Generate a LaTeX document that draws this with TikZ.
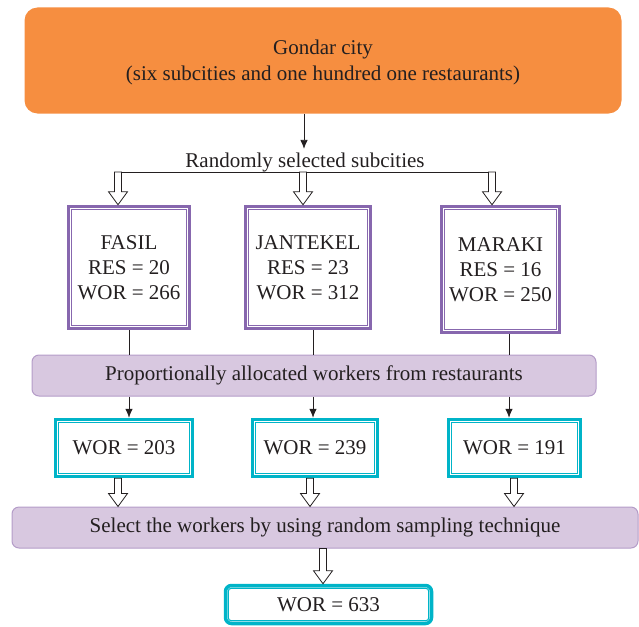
\documentclass[tikz,border=0pt]{standalone}
\usepackage{fontspec}
\setmainfont{Liberation Serif}
\usetikzlibrary{calc,arrows.meta}
\definecolor{orangeC}{HTML}{F68E40}
\definecolor{purpC}{HTML}{8767AE}
\definecolor{bandC}{HTML}{D8C8E0}
\definecolor{bandD}{HTML}{B49CC8}
\definecolor{cyanC}{HTML}{00B4C8}
\definecolor{txtC}{HTML}{231F20}
\newcommand\hollowarrow[2]{%
  \draw[harr] let \p1=(#1), \p2=(#2) in
    (\x1-3.5pt,\y1) -- (\x1-3.5pt,\y2+13pt) -- (\x1-9.5pt,\y2+13pt) -- (\x2,\y2)
    -- (\x1+9.5pt,\y2+13pt) -- (\x1+3.5pt,\y2+13pt) -- (\x1+3.5pt,\y1) -- cycle;}
\newcommand\innerframe[2]{%
  \draw[#2, line width=1.1pt] ($(#1.north west)+(4.5pt,-4.5pt)$) rectangle ($(#1.south east)+(-4.5pt,4.5pt)$);}
\begin{document}
\begin{tikzpicture}[x=1pt,y=-1pt,
  every node/.style={text=txtC, font=\fontsize{21}{25}\selectfont},
  topbox/.style={fill=orangeC, rounded corners=13pt, minimum width=597pt, minimum height=106pt, align=center, inner sep=0pt},
  subbox/.style={draw=purpC, line width=3.5pt, fill=white, align=center, inner sep=0pt},
  band/.style={draw=bandD, fill=bandC, line width=1pt, rounded corners=7pt, inner sep=0pt},
  worbox/.style={draw=cyanC, line width=3.5pt, fill=white, inner sep=0pt},
  conn/.style={draw=txtC, line width=0.8pt},
  arr/.style={conn, -{Latex[length=9pt,width=7.5pt]}},
  harr/.style={draw=txtC, line width=0.8pt, fill=white}
]
\useasboundingbox (0,0) rectangle (639,626);
\node[topbox] (city) at (323,60.5) {};
\node (citytxt) at (323,62.5) [align=center] {Gondar city\\[1pt](six subcities and one hundred one restaurants)};
\node (rand) at (305,162) {Randomly selected subcities};
\node[subbox, minimum width=121pt, minimum height=122pt] (fasil) at (129,267.5) {FASIL\\RES = 20\\WOR = 266};
\node[subbox, minimum width=125pt, minimum height=122pt] (jan) at (308,267.5) {JANTEKEL\\RES = 23\\WOR = 312};
\node[subbox, minimum width=118pt, minimum height=126pt] (mar) at (500.5,269.5) {MARAKI\\RES = 16\\WOR = 250};
\innerframe{fasil}{purpC}
\innerframe{jan}{purpC}
\innerframe{mar}{purpC}
\node[band, minimum width=564pt, minimum height=41pt] (band1) at (314,375.5) {Proportionally allocated workers from restaurants};
\node[worbox, minimum width=137pt, minimum height=57pt] (w1) at (124,448) {WOR = 203};
\node[worbox, minimum width=125pt, minimum height=57pt] (w2) at (315,448) {WOR = 239};
\node[worbox, minimum width=132pt, minimum height=57pt] (w3) at (514.5,448) {WOR = 191};
\innerframe{w1}{cyanC}
\innerframe{w2}{cyanC}
\innerframe{w3}{cyanC}
\node[band, minimum width=626pt, minimum height=41pt] (band2) at (325,527.5) {Select the workers by using random sampling technique};
\node[worbox, minimum width=206pt, minimum height=38pt, rounded corners=6pt] (total) at (328.5,604.5) {WOR = 633};
\draw[cyanC, line width=1.1pt, rounded corners=3pt] ($(total.north west)+(4.5pt,-4.5pt)$) rectangle ($(total.south east)+(-4.5pt,4.5pt)$);
% connectors
\coordinate (xa) at (304,0);
\draw[arr] (city.south -| xa) -- (rand.north -| xa);
\coordinate (h1) at (118,172);
\coordinate (h2) at (303,172);
\coordinate (h3) at (492,172);
\draw[conn] (h1) -- (h3);
\hollowarrow{h1}{fasil.north -| h1}
\hollowarrow{h2}{jan.north -| h2}
\hollowarrow{h3}{mar.north -| h3}
\coordinate (c1) at (129,0);
\coordinate (c2) at (313,0);
\coordinate (c3) at (509,0);
\draw[conn] (fasil.south -| c1) -- (band1.north -| c1);
\draw[conn] (jan.south -| c2) -- (band1.north -| c2);
\draw[conn] (mar.south -| c3) -- (band1.north -| c3);
\draw[arr] (band1.south -| c1) -- (w1.north -| c1);
\draw[arr] (band1.south -| c2) -- (w2.north -| c2);
\draw[arr] (band1.south -| c3) -- (w3.north -| c3);
\coordinate (d1) at (118,0);
\coordinate (d2) at (310,0);
\coordinate (d3) at (514,0);
\coordinate (d4) at (323,0);
\hollowarrow{w1.south -| d1}{band2.north -| d1}
\hollowarrow{w2.south -| d2}{band2.north -| d2}
\hollowarrow{w3.south -| d3}{band2.north -| d3}
\hollowarrow{band2.south -| d4}{total.north -| d4}
\end{tikzpicture}
\end{document}
